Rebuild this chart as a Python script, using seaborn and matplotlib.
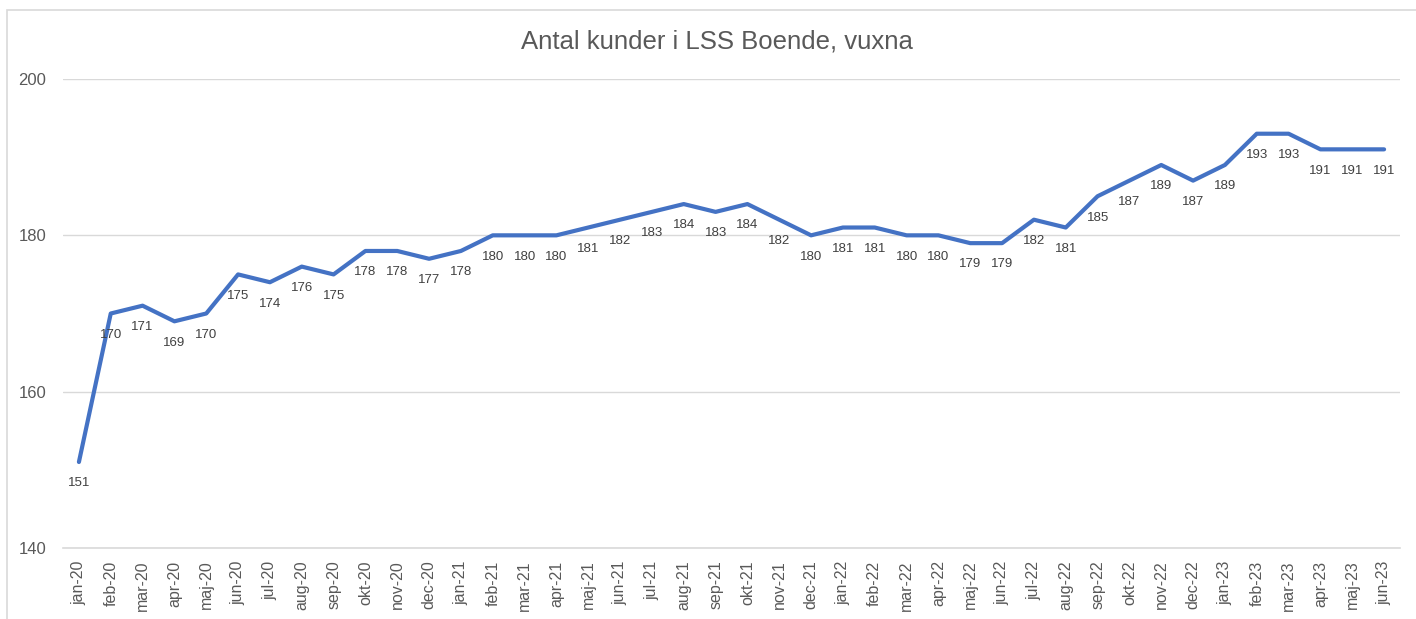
import numpy as np
import pandas as pd
import seaborn as sns
import matplotlib.pyplot as plt
from matplotlib.patches import Rectangle
from matplotlib.ticker import FixedLocator

# Data
months = ["jan-20", "feb-20", "mar-20", "apr-20", "maj-20", "jun-20", "jul-20", "aug-20",
          "sep-20", "okt-20", "nov-20", "dec-20",
          "jan-21", "feb-21", "mar-21", "apr-21", "maj-21", "jun-21", "jul-21", "aug-21",
          "sep-21", "okt-21", "nov-21", "dec-21",
          "jan-22", "feb-22", "mar-22", "apr-22", "maj-22", "jun-22", "jul-22", "aug-22",
          "sep-22", "okt-22", "nov-22", "dec-22",
          "jan-23", "feb-23", "mar-23", "apr-23", "maj-23", "jun-23"]
kunder = [151, 170, 171, 169, 170, 175, 174, 176, 175, 178, 178, 177,
          178, 180, 180, 180, 181, 182, 183, 184, 183, 184, 182, 180,
          181, 181, 180, 180, 179, 179, 182, 181, 185, 187, 189, 187,
          189, 193, 193, 191, 191, 191]
y_ticks = [140, 160, 180, 200]

sns.set_style("white")
plt.rcParams['font.family'] = ['Liberation Sans', 'DejaVu Sans']

df = pd.DataFrame({"pos": np.arange(len(months)), "kunder": kunder})

fig = plt.figure(figsize=(14.16, 6.19), dpi=100)
ax = fig.add_axes([63 / 1416, 1 - 548 / 619, (1400 - 63) / 1416, (548 - 79) / 619])

# chart border
fig.patches.append(Rectangle((7 / 1416, -0.05), 1.2, 1 - 10 / 619 + 0.05,
                             transform=fig.transFigure, fill=False,
                             edgecolor="#D9D9D9", linewidth=1.2))

sns.lineplot(data=df, x="pos", y="kunder", color="#4472C4", linewidth=3, ax=ax)

# data labels below each point
for i, v in enumerate(kunder):
    ax.annotate(str(v), (i, v), xytext=(0, -11), textcoords="offset points",
                ha="center", va="top", fontsize=9.5, color="#404040")

ax.set_xlim(-0.5, len(months) - 0.5)
ax.set_ylim(140, 200)
ax.set_yticks(y_ticks)
ax.set_yticklabels([str(t) for t in y_ticks], fontsize=12, color="#595959")
ax.grid(axis="y", color="#D9D9D9", linewidth=1)
ax.set_axisbelow(True)

ax.set_xticks(np.arange(len(months)))
ax.set_xticklabels(months, rotation=90, fontsize=11.5, color="#595959")
ax.xaxis.set_minor_locator(FixedLocator(np.arange(-0.5, len(months), 1)))
ax.tick_params(axis="x", which="major", length=0, pad=9)
ax.tick_params(axis="x", which="minor", length=5, color="#D9D9D9", width=1)
ax.tick_params(axis="y", length=0, pad=12)

for s in ["top", "right", "left"]:
    ax.spines[s].set_visible(False)
ax.spines["bottom"].set_color("#D9D9D9")
ax.spines["bottom"].set_linewidth(1.2)

ax.set_xlabel("")
ax.set_ylabel("")
fig.text(717 / 1416, 1 - 42 / 619, "Antal kunder i LSS Boende, vuxna",
         ha="center", va="center", fontsize=18.5, color="#595959")

fig.savefig("out.png", dpi=100)
